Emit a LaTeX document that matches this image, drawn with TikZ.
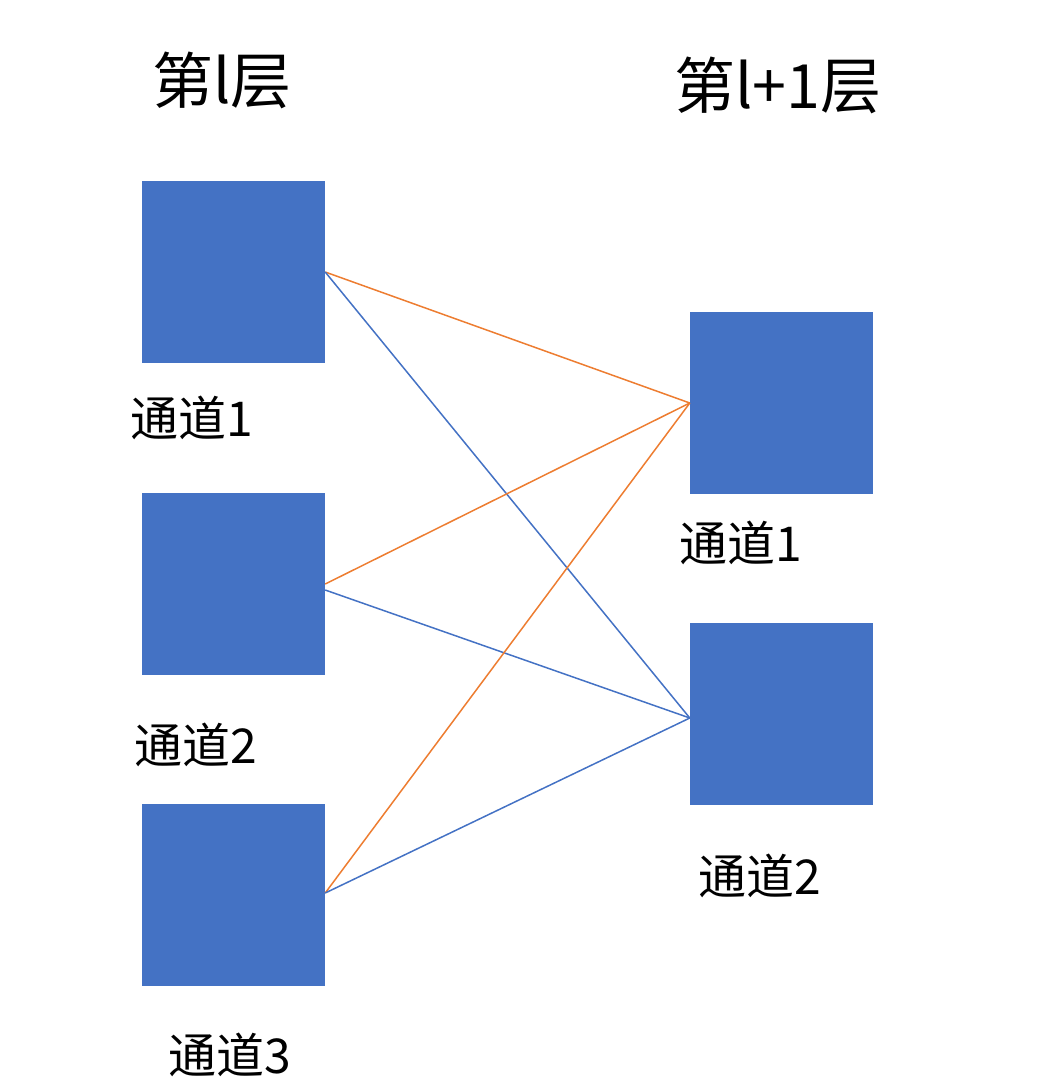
\documentclass[tikz,border=0pt]{standalone}
\usepackage{fontspec}
\setmainfont{Noto Sans CJK SC}
\definecolor{boxblue}{HTML}{4472C4}
\definecolor{lineorange}{HTML}{ED7D31}
\begin{document}
\begin{tikzpicture}[x=1pt,y=-1pt,
  chan/.style={fill=boxblue,draw=none,minimum width=183pt,minimum height=182pt,inner sep=0pt},
  lbl/.style={font=\fontsize{48}{54}\selectfont,inner sep=0pt,anchor=center},
  ttl/.style={font=\fontsize{61}{67}\selectfont,inner sep=0pt,anchor=center},
  org/.style={draw=lineorange,line width=1.5pt},
  blu/.style={draw=boxblue,line width=1.5pt}]
\useasboundingbox (0,0) rectangle (1044,1090);
\node[ttl] (t1) at (222,80) {第l层};
\node[ttl] (t2) at (778,85) {第l+1层};
\node[chan] (a1) at (233.5,272) {};
\node[chan] (a2) at (233.5,584) {};
\node[chan] (a3) at (233.5,895) {};
\node[chan] (b1) at (781.5,403) {};
\node[chan] (b2) at (781.5,714) {};
\node[lbl] (la1) at (192,418) {通道1};
\node[lbl] (la2) at (196,745) {通道2};
\node[lbl] (la3) at (230,1055) {通道3};
\node[lbl] (lb1) at (741,543) {通道1};
\node[lbl] (lb2) at (760,876) {通道2};
\draw[org] (a1.east) -- (b1.west);
\draw[blu] (a1.east) -- ([yshift=-4pt]b2.west);
\draw[org] (a2.east) -- (b1.west);
\draw[blu] ([yshift=-6pt]a2.east) -- ([yshift=-4pt]b2.west);
\draw[org] ([yshift=2pt]a3.east) -- (b1.west);
\draw[blu] ([yshift=2pt]a3.east) -- ([yshift=-4pt]b2.west);
\end{tikzpicture}
\end{document}
